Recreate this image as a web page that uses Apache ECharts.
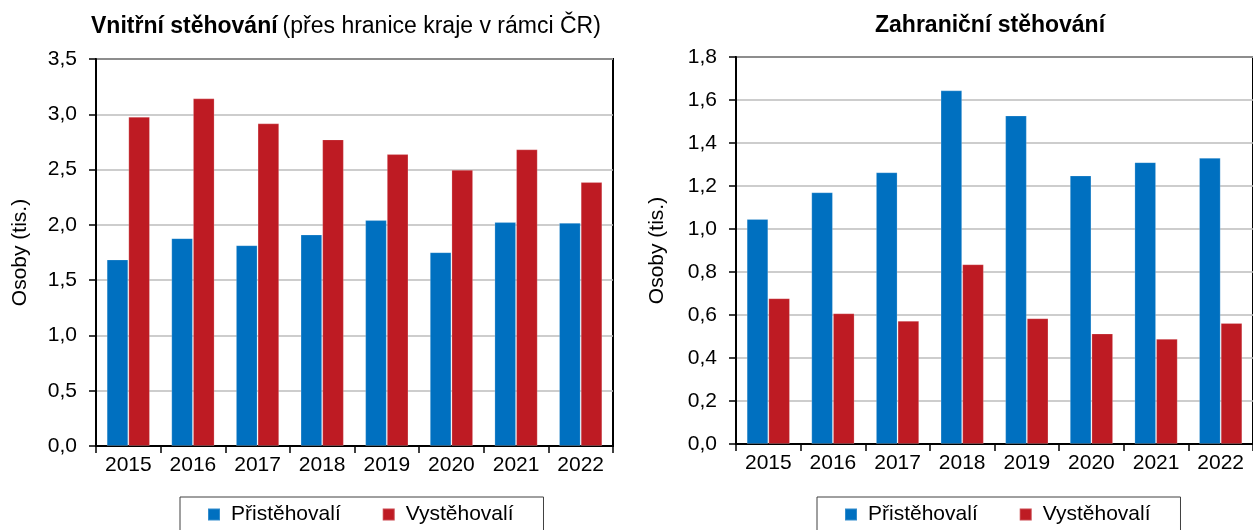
<!DOCTYPE html>
<html lang="cs">
<head>
    <meta charset="UTF-8">
    <title>Stěhování</title>
    <style>
        html, body { margin: 0; padding: 0; background: #fff; }
    </style>
</head>
<body>
<div id="chart1" style="width:1253px; height:530px;"></div>
<script type="text/javascript" src="https://cdn.jsdelivr.net/npm/echarts@6/dist/echarts.min.js"></script>
<script type="text/javascript">
// roky
var roky = ['2015', '2016', '2017', '2018', '2019', '2020', '2021', '2022'];

// vnitrni stehovani (tis. osob)
var vnitrniPrist = [1.687, 1.880, 1.816, 1.913, 2.043, 1.753, 2.025, 2.018];
var vnitrniVyst  = [2.978, 3.144, 2.918, 2.773, 2.640, 2.498, 2.683, 2.387];

// zahranicni stehovani (tis. osob)
var zahrPrist = [1.047, 1.171, 1.264, 1.645, 1.528, 1.249, 1.311, 1.331];
var zahrVyst  = [0.678, 0.608, 0.573, 0.836, 0.585, 0.514, 0.489, 0.563];

var nazvy = ['Přistěhovalí', 'Vystěhovalí'];
var barvy = ['#0070c0', '#be1b23'];

var FONT = '"Liberation Sans", Arial, sans-serif';

function carka(v) {
    return v.toFixed(1).replace('.', ',');
}

function osaX(idx) {
    return {
        type: 'category',
        gridIndex: idx,
        data: roky,
        axisLine: { lineStyle: { color: '#000', width: 2 } },
        axisTick: { show: true, length: 7, lineStyle: { color: '#000', width: 1.5 } },
        axisLabel: { color: '#000', fontSize: 21, fontFamily: FONT, margin: 9 }
    };
}

function osaY(idx, max, krok, gap) {
    return {
        type: 'value',
        gridIndex: idx,
        min: 0,
        max: max,
        interval: krok,
        name: 'Osoby (tis.)',
        nameLocation: 'middle',
        nameGap: gap,
        nameTextStyle: { color: '#000', fontSize: 21, fontFamily: FONT },
        axisLine: { show: true, lineStyle: { color: '#000', width: 2 } },
        axisTick: { show: true, length: 7, lineStyle: { color: '#000', width: 1.5 } },
        axisLabel: { color: '#000', fontSize: 21, fontFamily: FONT, margin: 19, formatter: carka },
        splitLine: { show: true, lineStyle: { color: '#bdbdbd', width: 1.5 } }
    };
}

function rada(jmeno, data, idx, barva) {
    return {
        name: jmeno,
        type: 'bar',
        xAxisIndex: idx,
        yAxisIndex: idx,
        data: data,
        barGap: '0%',
        barCategoryGap: '33%',
        itemStyle: { color: barva, borderColor: 'rgba(255,255,255,0.2)', borderWidth: 1 },
        emphasis: { disabled: true }
    };
}

function legenda(left) {
    return {
        left: left,
        top: 497,
        orient: 'horizontal',
        data: nazvy,
        icon: 'rect',
        itemWidth: 12,
        itemHeight: 12,
        itemGap: 41,
        padding: [7, 30, 12, 27],
        borderColor: '#404040',
        borderWidth: 1,
        selectedMode: false,
        textStyle: { color: '#000', fontSize: 21, fontFamily: FONT, padding: [0, 0, 0, 6], lineHeight: 21 }
    };
}

var option = {
    animation: false,
    backgroundColor: '#fff',
    title: [
        {
            left: 86,
            top: 10,
            text: '{b|Vnitřní stěhování} {n|(přes hranice kraje v rámci ČR)}',
            textStyle: {
                rich: {
                    b: { fontSize: 23, fontWeight: 'bold', color: '#000', fontFamily: FONT },
                    n: { fontSize: 23, fontWeight: 'normal', color: '#000', fontFamily: FONT }
                }
            }
        },
        {
            left: 870,
            top: 9,
            text: 'Zahraniční stěhování',
            textStyle: { fontSize: 23, fontWeight: 'bold', color: '#000', fontFamily: FONT }
        }
    ],
    legend: [legenda(180), legenda(817)],
    grid: [
        { left: 96, top: 59, width: 517, height: 387, show: true, borderColor: '#000', borderWidth: 2, backgroundColor: 'transparent' },
        { left: 736, top: 57, width: 518, height: 387, show: true, borderColor: '#000', borderWidth: 2, backgroundColor: 'transparent' }
    ],
    xAxis: [osaX(0), osaX(1)],
    yAxis: [osaY(0, 3.5, 0.5, 65), osaY(1, 1.8, 0.2, 68)],
    series: [
        rada(nazvy[0], vnitrniPrist, 0, barvy[0]),
        rada(nazvy[1], vnitrniVyst, 0, barvy[1]),
        rada(nazvy[0], zahrPrist, 1, barvy[0]),
        rada(nazvy[1], zahrVyst, 1, barvy[1])
    ]
};

var myChart = echarts.init(document.getElementById('chart1'));
myChart.setOption(option);
</script>
</body>
</html>
